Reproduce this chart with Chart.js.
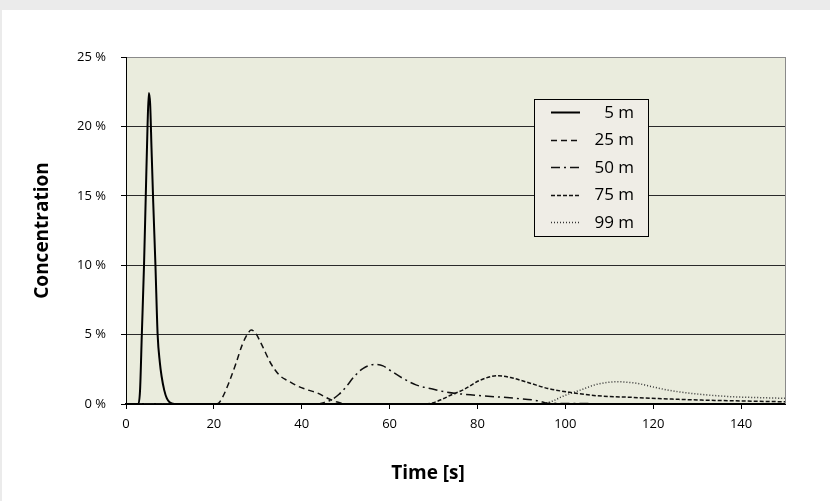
<!DOCTYPE html>
<html lang="en">
<head>
    <meta charset="UTF-8">
    <title>Concentration over time</title>
    <style>
        body { margin: 0; background: #ebebeb; width: 830px; height: 501px; overflow: hidden; }
        .panel { position: absolute; left: 2px; top: 10px; width: 828px; height: 491px; background: #fff; }
    </style>
</head>
<body>
    <div class="panel">
        <canvas id="concChart" width="828" height="491"></canvas>
    </div>

<script src="https://cdn.jsdelivr.net/npm/chart.js"></script>
<script>
    // series: time [s] and concentration [%]
    const seriesLabels = ['5 m', '25 m', '50 m', '75 m', '99 m'];

    const t5  = [0, 2.8, 3.2, 3.6, 4.1, 4.5, 4.9, 5.2, 5.5, 5.8, 6.2, 6.7, 7.2, 7.7, 8.1, 8.7, 9.3, 10.0, 11.0, 150];
    const c5  = [0, 0, 1.0, 5.0, 10.0, 15.0, 20.0, 22.4, 21.6, 18.5, 14.5, 10.0, 5.0, 3.0, 2.0, 1.0, 0.4, 0.1, 0, 0];

    const t25 = [0, 20, 21, 22, 23.5, 25, 26.5, 28, 28.5, 29.5, 31, 33, 35, 37, 39, 41, 43.5, 46, 48, 50, 150];
    const c25 = [0, 0, 0.05, 0.5, 1.6, 2.9, 4.3, 5.2, 5.33, 5.1, 4.2, 2.9, 2.05, 1.65, 1.3, 1.05, 0.8, 0.4, 0.15, 0.02, 0];

    const t50 = [0, 43, 45, 47, 48.5, 50, 52, 54, 56.7, 58.5, 60, 63, 66, 70, 73, 80, 89, 94, 96, 150];
    const c50 = [0, 0, 0.1, 0.35, 0.7, 1.2, 2.0, 2.57, 2.86, 2.75, 2.45, 1.85, 1.38, 1.06, 0.85, 0.62, 0.4, 0.22, 0.05, 0];

    const t75 = [0, 68, 70, 72, 74, 77, 80.5, 84.8, 88, 92, 96, 101, 107, 115, 122, 130, 140, 150];
    const c75 = [0, 0, 0.1, 0.35, 0.65, 1.06, 1.7, 2.04, 1.87, 1.5, 1.12, 0.84, 0.6, 0.48, 0.38, 0.29, 0.22, 0.16];

    const t99 = [0, 93, 95, 97, 99.6, 103.4, 107.2, 111.8, 116.3, 119, 122.4, 126, 130, 137.6, 143, 150];
    const c99 = [0, 0, 0.05, 0.2, 0.58, 1.0, 1.42, 1.6, 1.49, 1.3, 1.06, 0.87, 0.72, 0.53, 0.47, 0.41];

    const yTicks = [0, 5, 10, 15, 20, 25];
    const xTicks = [0, 20, 40, 60, 80, 100, 120, 140];
    const xTitle = 'Time [s]';
    const yTitle = 'Concentration';

    function toPoints(ts, cs) {
        return ts.map((t, i) => ({ x: t, y: cs[i] }));
    }

    const seriesTimes = [t5, t25, t50, t75, t99];
    const seriesValues = [c5, c25, c50, c75, c99];
    const seriesDash = [[], [6, 4], [9, 4, 2, 4], [4, 2], [1, 2]];
    const seriesWidth = [2, 1.5, 1.5, 1.5, 1.5];
    const seriesColor = ['#000', '#111', '#111', '#111', '#333'];

    const datasets = seriesLabels.map((label, i) => ({
        label: label,
        data: toPoints(seriesTimes[i], seriesValues[i]),
        borderColor: seriesColor[i],
        borderWidth: seriesWidth[i],
        borderDash: seriesDash[i],
        pointRadius: 0,
        fill: false,
        cubicInterpolationMode: 'monotone'
    }));

    // plot background, grey right edge, x axis title (sits left of centre)
    const plotFrame = {
        id: 'plotFrame',
        beforeDraw(chart) {
            const { ctx, chartArea: a } = chart;
            ctx.save();
            ctx.fillStyle = '#eaecdd';
            ctx.fillRect(a.left, a.top, a.right - a.left, a.bottom - a.top);
            ctx.restore();
        },
        afterDatasetsDraw(chart) {
            const { ctx, chartArea: a } = chart;
            ctx.save();
            ctx.strokeStyle = '#8a8a8a';
            ctx.lineWidth = 1;
            ctx.beginPath();
            ctx.moveTo(a.right + 0.5, a.top);
            ctx.lineTo(a.right + 0.5, a.bottom);
            ctx.stroke();
            ctx.restore();
        },
        afterDraw(chart) {
            const ctx = chart.ctx;
            ctx.save();
            ctx.font = 'bold 19px "Open Sans"';
            ctx.fillStyle = '#000';
            ctx.textAlign = 'center';
            ctx.textBaseline = 'middle';
            ctx.fillText(xTitle, 426, 464);
            ctx.restore();
        }
    };

    // boxed legend inside the plot, labels right aligned
    const boxLegend = {
        id: 'boxLegend',
        afterDraw(chart) {
            const ctx = chart.ctx;
            const bx = 532, by = 89, bw = 114, bh = 137;
            ctx.save();
            ctx.fillStyle = '#efede6';
            ctx.fillRect(bx, by, bw, bh);
            ctx.strokeStyle = '#000';
            ctx.lineWidth = 1;
            ctx.strokeRect(bx + 0.5, by + 0.5, bw, bh);
            ctx.font = '17px "Open Sans"';
            ctx.textAlign = 'right';
            ctx.textBaseline = 'middle';
            chart.data.datasets.forEach((ds, i) => {
                const y = by + 13 + i * 27.5;
                ctx.strokeStyle = ds.borderColor;
                ctx.lineWidth = ds.borderWidth;
                ctx.setLineDash(ds.borderDash);
                ctx.beginPath();
                ctx.moveTo(549, Math.round(y) + 0.5);
                ctx.lineTo(578, Math.round(y) + 0.5);
                ctx.stroke();
                ctx.setLineDash([]);
                ctx.fillStyle = '#000';
                ctx.fillText(ds.label, 632, y + 1);
            });
            ctx.restore();
        }
    };

    const ctx = document.getElementById('concChart').getContext('2d');
    const concChart = new Chart(ctx, {
        type: 'line',
        data: { datasets: datasets },
        options: {
            responsive: false,
            animation: false,
            layout: { padding: { left: 20, top: 47, right: 45, bottom: 0 } },
            plugins: {
                legend: { display: false },
                tooltip: { enabled: false }
            },
            scales: {
                x: {
                    type: 'linear',
                    min: 0,
                    max: 150,
                    afterFit(scale) { scale.height = 97; },
                    afterBuildTicks(scale) { scale.ticks = xTicks.map(v => ({ value: v })); },
                    grid: { drawOnChartArea: false, tickLength: 5, tickColor: '#000' },
                    border: { color: '#000', width: 2 },
                    ticks: { color: '#000', padding: 7, maxRotation: 0, font: { family: 'Open Sans', size: 13 } }
                },
                y: {
                    min: 0,
                    max: 25,
                    afterFit(scale) { scale.width = 104; },
                    afterBuildTicks(scale) { scale.ticks = yTicks.map(v => ({ value: v })); },
                    grid: {
                        tickLength: 5,
                        tickColor: '#000',
                        color: c => c.tick && c.tick.value === 25 ? '#8a8a8a' : '#2a2a2a',
                        lineWidth: 1
                    },
                    border: { color: '#000', width: 1 },
                    ticks: {
                        color: '#000',
                        padding: 15,
                        font: { family: 'Open Sans', size: 13 },
                        callback: v => v + ' %'
                    },
                    title: {
                        display: true,
                        text: yTitle,
                        color: '#000',
                        font: { family: 'Open Sans', size: 19, weight: 'bold' },
                        padding: { top: 9, bottom: 0 }
                    }
                }
            }
        },
        plugins: [plotFrame, boxLegend]
    });
</script>
</body>
</html>
